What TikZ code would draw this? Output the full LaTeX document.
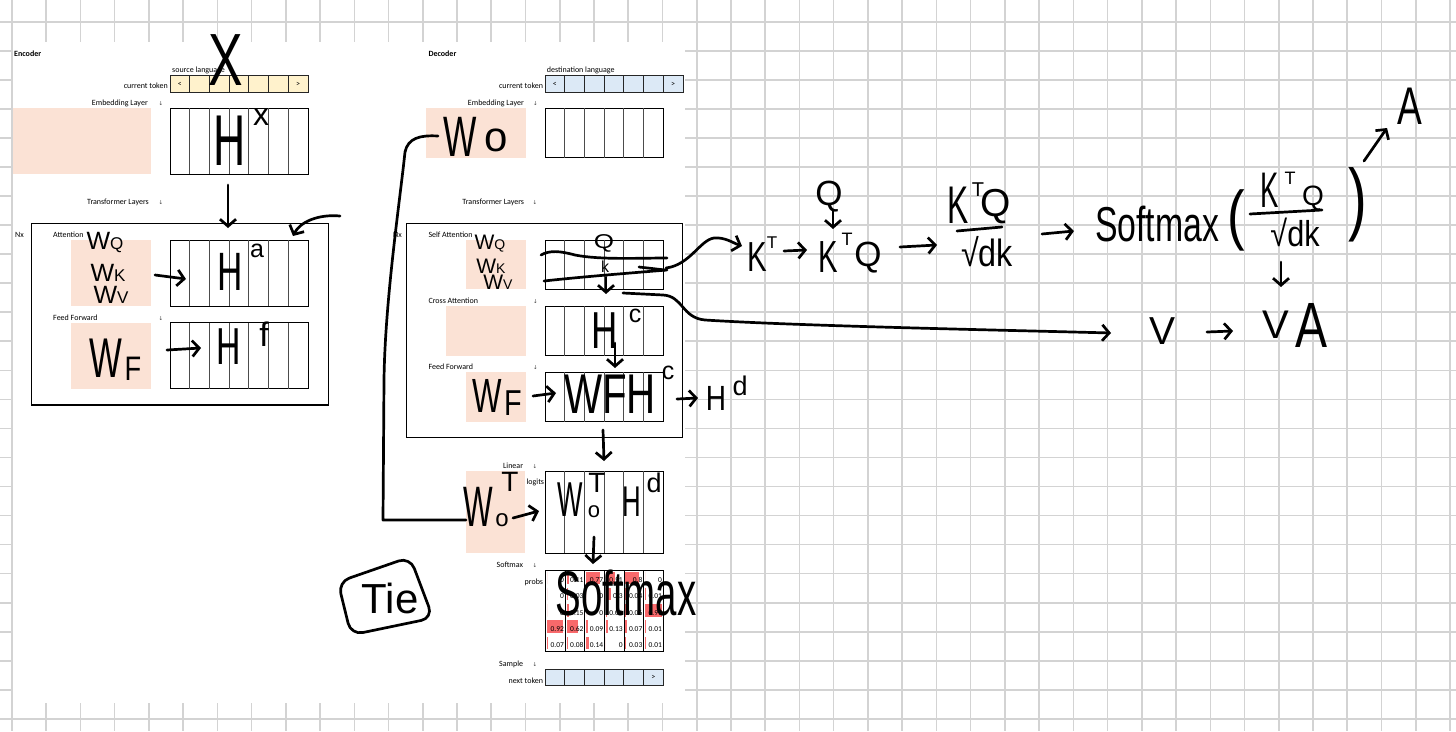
\documentclass[tikz,border=0pt]{standalone}
\usepackage{graphicx}
\usepackage{fontspec}
\setmainfont{Carlito}
\newfontfamily\hand{Liberation Sans}
\newfontfamily\symf{DejaVu Sans}
\usetikzlibrary{arrows.meta}
\newcommand\hw[1]{\fontsize{#1}{#1}\selectfont\hand}
\newcommand\sx[2]{\scalebox{#1}[1]{#2}}
\definecolor{gridc}{HTML}{D3D3D3}
\definecolor{tokY}{HTML}{FFF2CC}
\definecolor{tokB}{HTML}{DCE9F6}
\definecolor{pinkc}{HTML}{FBE2D5}
\definecolor{barc}{HTML}{F8696B}
\tikzset{
  lbl/.style={inner sep=0, font=\fontsize{8}{9}\selectfont},
  lblb/.style={inner sep=0, font=\fontsize{8}{9}\selectfont\bfseries},
  darr/.style={inner sep=0, font=\fontsize{5.5}{6}\selectfont\symf, text=black!75},
  pinkbox/.style={fill=pinkc, draw=none, inner sep=0, outer sep=0, anchor=north west},
  cellbox/.style={draw=black, line width=0.9pt, inner sep=0, outer sep=0, fill=white},
  tokcell/.style={draw=black!85, line width=0.8pt, inner sep=0, outer sep=0, minimum width=19.71, minimum height=16.6, anchor=north west},
  colline/.style={draw=black!70, line width=0.8pt},
  bigbox/.style={draw=black, line width=1.3pt, inner sep=0, outer sep=0, anchor=north west},
  cellnum/.style={inner sep=0, font=\fontsize{7.5}{8}\selectfont, anchor=east},
  hwt/.style={inner sep=0, outer sep=0, text=black},
  hwl/.style={line width=2.7pt, line cap=round, line join=round},
  hwa/.style={hwl, -{Straight Barb[length=7pt,width=16pt]}},
  gridl/.style={draw=gridc, line width=1.6pt}
}
\newcommand\mkmtx[6]{%
  \node[cellbox, anchor=north west, minimum width=#4, minimum height=#5] (#1) at (#2,#3) {};
  \foreach \i in {1,...,#6} \draw[colline] ([xshift=\i*19.71pt]#1.north west) -- ([xshift=\i*19.71pt]#1.south west);
}
\begin{document}
\begin{tikzpicture}[x=1pt,y=-1pt]
\useasboundingbox (0,0) rectangle (1456,731);
\fill[white] (0,0) rectangle (1456,731);
% grid
\foreach \k in {0,...,42} \draw[gridl] ({11.9+34.24*\k},0) -- ({11.9+34.24*\k},731);
\foreach \k in {0,...,24} \draw[gridl] (0,{21.7+29.05*\k}) -- (1456,{21.7+29.05*\k});
\fill[white] (12.5,42) rectangle (685,703);

% ================= ENCODER =================
\node[lblb, anchor=west] (encT) at (14,54) {Encoder};
\node[lbl, anchor=west] (srcL) at (172,70) {source language};
\node[lbl, anchor=east] (ctE) at (168,85.5) {current token};
\foreach \i in {0,...,6} \node[tokcell, fill=tokY] (et\i) at ({170+19.71*\i},75.7) {};
\node[lbl] (etl) at (et0.center) {<};
\node[lbl] (etr) at (et6.center) {>};
\node[lbl, anchor=east] (embE) at (148,103.3) {Embedding Layer};
\node[darr] (embEa) at (161,104) {↓};
\node[pinkbox, minimum width=138, minimum height=66] (eEmbP) at (12.7,108.3) {};
\mkmtx{hx}{170}{108.3}{138}{66}{6}
\node[lbl, anchor=east] (trE) at (149,202.3) {Transformer Layers};
\node[darr] (trEa) at (161,203) {↓};
\node[bigbox, minimum width=296.6, minimum height=181.7] (encBox) at (31.7,223.3) {};
\node[lbl, anchor=west] (nxE) at (15,235) {Nx};
\node[lbl, anchor=west] (attE) at (53,235) {Attention};
\node[pinkbox, minimum width=79.7, minimum height=66] (eAttP) at (71,240) {};
\mkmtx{ha}{170}{240}{138}{66}{6}
\node[lbl, anchor=west] (ffE) at (53,317.7) {Feed Forward};
\node[darr] (ffEa) at (161,318.5) {↓};
\node[pinkbox, minimum width=79.7, minimum height=66] (eFfP) at (71,322.7) {};
\mkmtx{hf}{170}{322.7}{138}{66}{6}

% ================= DECODER =================
\node[lblb, anchor=west] (decT) at (428.3,54) {Decoder};
\node[lbl, anchor=west] (dstL) at (546.7,70) {destination language};
\node[lbl, anchor=east] (ctD) at (543.3,85.5) {current token};
\foreach \i in {0,...,6} \node[tokcell, fill=tokB] (dt\i) at ({545+19.71*\i},75.7) {};
\node[lbl] (dtl) at (dt0.center) {<};
\node[lbl] (dtr) at (dt6.center) {>};
\node[lbl, anchor=east] (embD) at (524,103.3) {Embedding Layer};
\node[darr] (embDa) at (535.3,104) {↓};
\node[pinkbox, minimum width=99.7, minimum height=49.4] (dEmbP) at (426,108.3) {};
\mkmtx{dEmb}{545}{108.3}{118.3}{49.4}{5}
\node[lbl, anchor=east] (trD) at (524.3,202.3) {Transformer Layers};
\node[darr] (trDa) at (535,203) {↓};
\node[bigbox, minimum width=276, minimum height=214.4] (decBox) at (406.7,223.3) {};
\node[lbl, anchor=west] (nxD) at (393,235) {Nx};
\node[lbl, anchor=west] (saD) at (428.3,235) {Self Attention};
\node[pinkbox, minimum width=59.7, minimum height=49.3] (dSaP) at (466,240) {};
\mkmtx{dSa}{545}{240}{118.3}{49.3}{5}
\node[lbl, anchor=west] (caD) at (428.3,301) {Cross Attention};
\node[darr] (caDa) at (535.3,301.5) {↓};
\node[pinkbox, minimum width=79.7, minimum height=49.7] (dCaP) at (446,306) {};
\mkmtx{dCa}{545}{306}{118.3}{49.7}{5}
\node[lbl, anchor=west] (ffD) at (428.3,367) {Feed Forward};
\node[darr] (ffDa) at (535.3,367.5) {↓};
\node[pinkbox, minimum width=59.7, minimum height=49.4] (dFfP) at (466,372.3) {};
\mkmtx{dFf}{545}{372.3}{118.3}{49.4}{5}
\node[lbl, anchor=east] (linD) at (523.3,466) {Linear};
\node[darr] (linDa) at (535,466.5) {↓};
\node[pinkbox, minimum width=59, minimum height=82.3] (dLinP) at (466,471) {};
\mkmtx{dLog}{545}{471}{118.3}{82.3}{5}
\node[lbl, anchor=east] (logD) at (544.3,482.7) {logits};
\node[lbl, anchor=east] (smD) at (523.3,565) {Softmax};
\node[darr] (smDa) at (535,565.5) {↓};
\node[lbl, anchor=east] (prD) at (543.3,582.7) {probs};
% probs table
\node[cellbox, anchor=north west, minimum width=117.6, minimum height=81.7] (probT) at (545.7,570) {};
\foreach [count=\r from 0] \row in {{0,0.11,0.77,0.51,0.8,0},{0,0.03,0,0.3,0.04,0.01},{0,0.15,0,0.06,0.06,0.97},{0.92,0.62,0.09,0.13,0.07,0.01},{0.07,0.08,0.14,0,0.03,0.01}} {
  \foreach [count=\c from 0] \v in \row {
    \fill[barc] ({547+19.6*\c},{570+16.33*\r+1.5}) rectangle ++({17.6*\v},12.5);
    \node[cellnum] (p\r\c) at ({545.7+19.6*(\c+1)-1.2},{570+16.33*\r+10}) {\v};
  }
}
\foreach \i in {1,...,5} \draw[draw=black, line width=0.9pt] ([xshift=\i*19.6pt]probT.north west) -- ([xshift=\i*19.6pt]probT.south west);
\node[lbl, anchor=east] (sampD) at (523.3,664) {Sample};
\node[darr] (sampDa) at (535,664.5) {↓};
\node[lbl, anchor=east] (ntD) at (543.3,680.7) {next token};
\foreach \i in {0,...,5} \node[tokcell, fill=tokB, minimum height=16.7] (nt\i) at ({545+19.71*\i},669) {};
\node[lbl] (ntr) at (nt5.center) {>};

% ================= HANDWRITING: encoder =================
\node[hwt] (chiX) at (226,60) {\hw{74}\sx{0.7}{X}};
\node[hwt] (hxH) at (230,141) {\hw{72}\sx{0.62}{H}};
\node[hwt] (hxS) at (261,117) {\hw{32}x};
\coordinate (aHx1) at (228,185); \coordinate (aHx2) at (228,228);
\draw[hwa] (aHx1) -- (aHx2);
\coordinate (cA1) at (340,216); \coordinate (cA2) at (293,236);
\draw[hwa] (cA1) .. controls (318,214) and (300,222) .. (cA2);
\node[hwt] (wq) at (105,243) {\hw{25}W\hw{17}Q};
\node[hwt] (wk) at (108,273) {\hw{25}W\hw{17}K};
\node[hwt] (wv) at (111,295) {\hw{25}W\hw{17}V};
\coordinate (aHa1) at (155,275); \coordinate (aHa2) at (186,279);
\draw[hwa] (aHa1) -- (aHa2);
\node[hwt] (haH) at (230,272) {\hw{54}\sx{0.65}{H}};
\node[hwt] (haS) at (257,251) {\hw{25}a};
\node[hwt] (wfW) at (106,358) {\hw{56}\sx{0.62}{W}};
\node[hwt] (wfF) at (133,369) {\hw{34}\sx{0.8}{F}};
\coordinate (aHf1) at (167,350); \coordinate (aHf2) at (201,348);
\draw[hwa] (aHf1) -- (aHf2);
\node[hwt] (hfH) at (229,347) {\hw{52}\sx{0.65}{H}};
\node[hwt] (hfS) at (264,334) {\hw{34}f};

% ================= HANDWRITING: decoder =================
\node[hwt] (woW) at (460,137) {\hw{57}\sx{0.62}{W}};
\node[hwt] (woO) at (496,140) {\hw{42}o};
\coordinate (tie1) at (438,136); \coordinate (tie2) at (466,520);
\draw[hwl] (tie1) .. controls (420,135) and (408,138) .. (405,152) .. controls (400,200) and (385,300) .. (384,380) -- (383,520) -- (tie2);
\node[hwt] (swq) at (490,244) {\hw{21}W\hw{14}Q};
\node[hwt] (swk) at (491,266) {\hw{21}W\hw{14}K};
\node[hwt] (swv) at (498,282) {\hw{21}W\hw{14}V};
\coordinate (sl1a) at (541,255); \coordinate (sl1b) at (667,258);
\draw[hwl] (sl1a) .. controls (550,250) and (560,251) .. (575,255) .. controls (600,260) and (640,258) .. (sl1b);
\coordinate (sl2a) at (544,281); \coordinate (sl2b) at (667,270);
\draw[hwl] (sl2a) .. controls (580,277) and (630,273) .. (sl2b);
\coordinate (sl3a) at (639,267); \coordinate (sl3b) at (665,270);
\draw[hwl] (sl3a) -- (sl3b);
\node[hwt] (saQ) at (604,243) {\hw{20}\sx{1.3}{Q}};
\node[hwt] (saK) at (605,267) {\hw{16}k};
\coordinate (saV1) at (606,277); \coordinate (saV2) at (606,294);
\draw[hwa] (saV1) -- (saV2);
\coordinate (kc1) at (666,268); \coordinate (kc2) at (742,246);
\draw[hwa] (kc1) .. controls (690,265) and (700,240) .. (714,238) .. controls (725,237) and (733,243) .. (kc2);
\coordinate (vl1) at (623,293); \coordinate (vl2) at (1111,333);
\draw[hwa] (vl1) -- (663,295) .. controls (683,296) and (682,318) .. (705,320) .. controls (800,326) and (1000,330) .. (vl2);
\node[hwt] (hcH) at (605,331) {\hw{52}\sx{0.7}{H}};
\node[hwt] (hcS) at (635,316) {\hw{25}c};
\coordinate (hca1) at (615,343); \coordinate (hca2) at (615,368);
\draw[hwa] (hca1) -- (hca2);
\node[hwt] (dwfW) at (487,396) {\hw{48}\sx{0.65}{W}};
\node[hwt] (dwfF) at (513,403) {\hw{36}\sx{0.8}{F}};
\coordinate (ffa1) at (533,396); \coordinate (ffa2) at (556,393);
\draw[hwa] (ffa1) -- (ffa2);
\node[hwt] (wfh) at (610,394) {\hw{56}\sx{0.72}{WFH}};
\node[hwt] (wfhS) at (668,373) {\hw{25}c};
\coordinate (hda1) at (677,399); \coordinate (hda2) at (698,398);
\draw[hwa] (hda1) -- (hda2);
\node[hwt] (hdH) at (716,398) {\hw{35}\sx{0.8}{H}};
\node[hwt] (hdS) at (740,386) {\hw{27}d};
\coordinate (dn1) at (603,430); \coordinate (dn2) at (604,461);
\draw[hwa] (dn1) -- (dn2);
\node[hwt] (lwW) at (478,507) {\hw{57}\sx{0.55}{W}};
\node[hwt] (lwO) at (502,520) {\hw{24}o};
\node[hwt] (lwT) at (510,482) {\hw{28}T};
\coordinate (la1) at (513,518); \coordinate (la2) at (539,511);
\draw[hwa] (la1) -- (la2);
\node[hwt] (mwW) at (570,500) {\hw{49}\sx{0.55}{W}};
\node[hwt] (mwO) at (594,512) {\hw{22}o};
\node[hwt] (mwT) at (597,483) {\hw{28}T};
\node[hwt] (mhH) at (632,502) {\hw{43}\sx{0.6}{H}};
\node[hwt] (mhS) at (654,483) {\hw{27}d};
\coordinate (sma1) at (594,537); \coordinate (sma2) at (593,564);
\draw[hwa] (sma1) -- (sma2);
\node[hwt] (smx) at (626,593) {\hw{63}\sx{0.61}{Softmax}};
\coordinate (tb1) at (338,582); \coordinate (tb2) at (410,557);
\coordinate (tb3) at (433,618); \coordinate (tb4) at (351,635);
\draw[hwl, rounded corners=12pt] (tb1) -- (tb2) -- (tb3) -- (tb4) -- cycle;
\node[hwt] (tieT) at (390,598) {\hw{42}Tie};

% ================= HANDWRITING: right =================
\node[hwt] (k1K) at (757,257) {\hw{42}\sx{0.7}{K}};
\node[hwt] (k1T) at (772,243) {\hw{17}T};
\coordinate (r1a) at (784,251); \coordinate (r1b) at (807,250);
\draw[hwa] (r1a) -- (r1b);
\node[hwt] (kqK) at (828,257) {\hw{45}\sx{0.65}{K}};
\node[hwt] (kqT) at (847,239) {\hw{18}T};
\node[hwt] (kqQ) at (868,258) {\hw{35}Q};
\node[hwt] (qtop) at (829,197) {\hw{35}Q};
\coordinate (q1) at (833,211); \coordinate (q2) at (833,229);
\draw[hwa] (q1) -- (q2);
\coordinate (r2a) at (900,247); \coordinate (r2b) at (937,245);
\draw[hwa] (r2a) -- (r2b);
\node[hwt] (f1K) at (958,205) {\hw{53}\sx{0.6}{K}};
\node[hwt] (f1T) at (978,190) {\hw{20}T};
\node[hwt] (f1Q) at (996,207) {\hw{39}Q};
\coordinate (fb1a) at (957,231); \coordinate (fb1b) at (1002,227);
\draw[hwl] (fb1a) -- (fb1b);
\node[hwt] (f1D) at (987,252) {\hw{38}\sx{0.85}{√dk}};
\coordinate (r3a) at (1042,234); \coordinate (r3b) at (1074,231);
\draw[hwa] (r3a) -- (r3b);
\node[hwt] (smR) at (1157,224) {\hw{49}\sx{0.69}{Softmax}};
\node[hwt] (lpar) at (1236,220) {\hw{66}\sx{0.8}{(}};
\node[hwt] (f2K) at (1270,190) {\hw{50}\sx{0.55}{K}};
\node[hwt] (f2T) at (1290,178) {\hw{18}T};
\node[hwt] (f2Q) at (1313,198) {\hw{28}Q};
\coordinate (fb2a) at (1250,214); \coordinate (fb2b) at (1322,210);
\draw[hwl] (fb2a) -- (fb2b);
\node[hwt] (f2D) at (1295,232) {\hw{36}\sx{0.85}{√dk}};
\node[hwt] (rpar) at (1358,205) {\hw{80}\sx{0.7}{)}};
\coordinate (r4a) at (1364,161); \coordinate (r4b) at (1387,128);
\draw[hwa] (r4a) -- (r4b);
\node[hwt] (aA) at (1410,106) {\hw{53}\sx{0.7}{A}};
\coordinate (r5a) at (1281,262); \coordinate (r5b) at (1281,287);
\draw[hwa] (r5a) -- (r5b);
\node[hwt] (vV) at (1162,331) {\hw{39}V};
\coordinate (r6a) at (1207,332); \coordinate (r6b) at (1233,331);
\draw[hwa] (r6a) -- (r6b);
\node[hwt] (vaV) at (1276,325) {\hw{40}V};
\node[hwt] (vaA) at (1311,325) {\hw{64}\sx{0.75}{A}};
\end{tikzpicture}
\end{document}
